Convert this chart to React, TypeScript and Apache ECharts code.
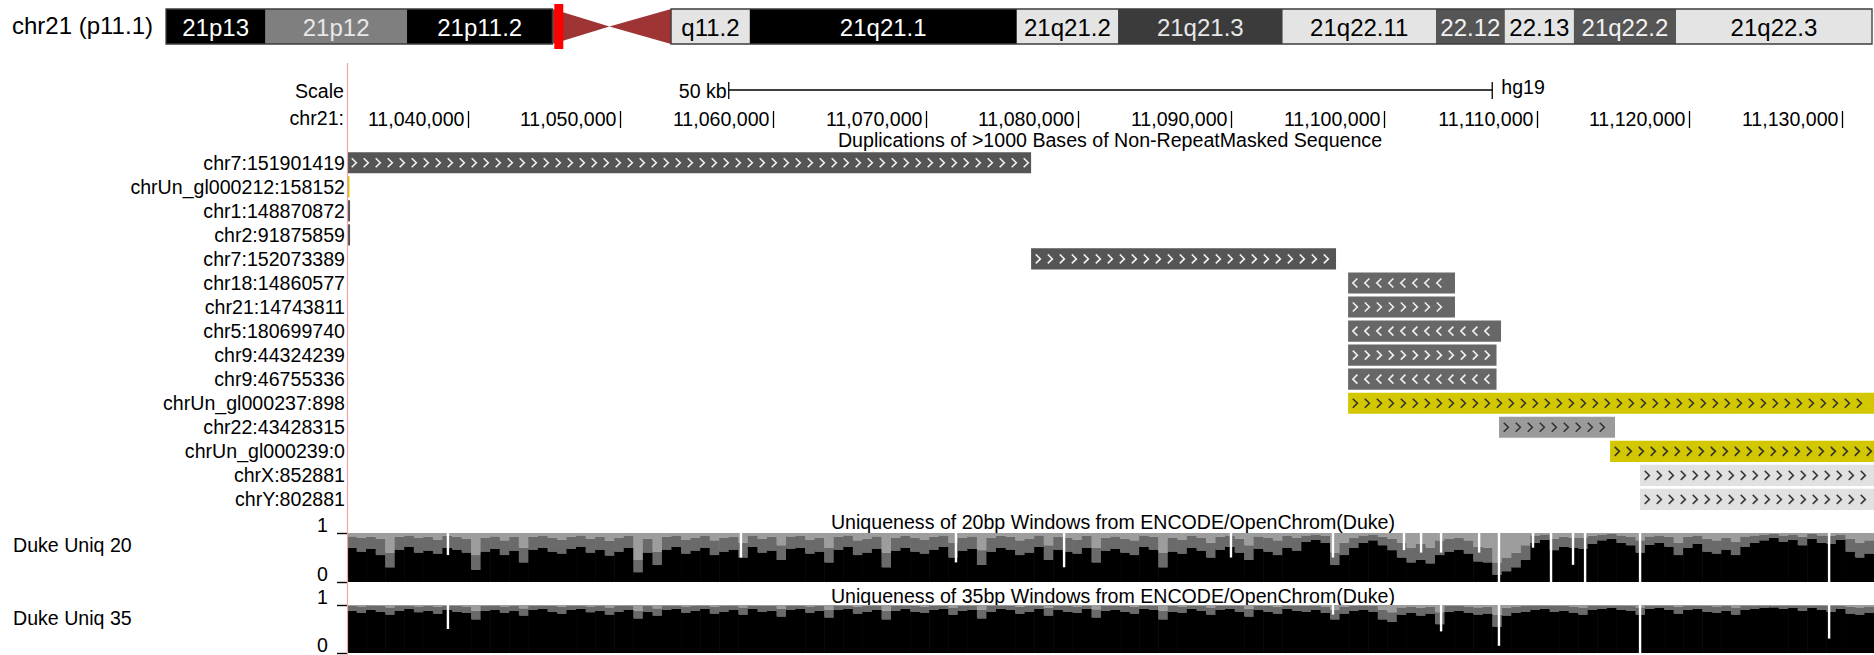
import React, { useEffect, useRef } from "react";
import * as echarts from "echarts";

const FONT = "'Liberation Sans', Arial, Helvetica, sans-serif";

// ---- Chromosome ideogram (positions in Mb) ----
const chromLabel = "chr21 (p11.1)";
const chromLengthMb = 48.13;
const bandIds = ["p13", "p12", "p11.2", "p11.1", "q11.1", "q11.2", "q21.1", "q21.2", "q21.3", "q22.11", "q22.12", "q22.13", "q22.2", "q22.3"];
const bandLabels = ["21p13", "21p12", "21p11.2", "", "", "q11.2", "21q21.1", "21q21.2", "21q21.3", "21q22.11", "22.12", "22.13", "21q22.2", "21q22.3"];
const bandStartsMb = [0, 2.8, 6.8, 10.9, 12.51, 14.25, 16.47, 24.0, 26.86, 31.5, 35.83, 37.77, 39.72, 42.6];
const bandEndsMb = [2.8, 6.8, 10.9, 12.51, 14.25, 16.47, 24.0, 26.86, 31.5, 35.83, 37.77, 39.72, 42.6, 48.13];
const bandStains = ["gvar", "stalk", "gvar", "acen", "acen", "gneg", "gpos100", "gneg", "gpos75", "gneg", "gpos50", "gneg", "gpos50", "gneg"];

// ---- Browser window ----
const viewStart = 11032100;
const viewEnd = 11132100;
const rulerTicks = [11040000, 11050000, 11060000, 11070000, 11080000, 11090000, 11100000, 11110000, 11120000, 11130000];
const scaleBarRange = [11057100, 11107100];
const scaleBarLabel = "50 kb";
const assemblyLabel = "hg19";

// ---- Segmental duplications ----
const dupTitle = "Duplications of >1000 Bases of Non-RepeatMasked Sequence";
const dupNames = [
  "chr7:151901419", "chrUn_gl000212:158152", "chr1:148870872", "chr2:91875859", "chr7:152073389",
  "chr18:14860577", "chr21:14743811", "chr5:180699740", "chr9:44324239", "chr9:46755336",
  "chrUn_gl000237:898", "chr22:43428315", "chrUn_gl000239:0", "chrX:852881", "chrY:802881",
];
const dupStarts = [11020000, 11020000, 11020000, 11020000, 11076900, 11097660, 11097660, 11097660, 11097660, 11097660, 11097660, 11107545, 11114815, 11116780, 11116780];
const dupEnds = [11076900, 11032260, 11032300, 11032300, 11096870, 11104660, 11104660, 11107675, 11107380, 11107380, 11160000, 11115140, 11160000, 11160000, 11160000];
const dupStrands = ["+", "+", "+", "+", "+", "-", "+", "-", "+", "-", "+", "+", "+", "+", "+"];
const dupShades = ["dark", "yellow", "dark", "dark", "dark", "mid", "mid", "mid", "mid", "mid", "yellow", "gray", "yellow", "light", "light"];

// ---- Duke uniqueness (625 bp bins across the window) ----
const uniqBinSize = 625;
const uniq20Title = "Uniqueness of 20bp Windows from ENCODE/OpenChrom(Duke)";
const uniq35Title = "Uniqueness of 35bp Windows from ENCODE/OpenChrom(Duke)";
const uniq20Mean = [
  0.70, 0.62, 0.68, 0.55, 0.30, 0.66, 0.72, 0.60, 0.64, 0.58, 0.70, 0.66, 0.60, 0.25, 0.62, 0.68, 0.55, 0.64, 0.40, 0.66,
  0.70, 0.62, 0.58, 0.68, 0.72, 0.60, 0.66, 0.54, 0.62, 0.70, 0.20, 0.60, 0.35, 0.66, 0.72, 0.58, 0.64, 0.70, 0.55, 0.62,
  0.66, 0.50, 0.72, 0.60, 0.64, 0.45, 0.68, 0.70, 0.58, 0.62, 0.40, 0.66, 0.72, 0.55, 0.60, 0.68, 0.30, 0.64, 0.70, 0.62,
  0.58, 0.66, 0.72, 0.50, 0.64, 0.68, 0.35, 0.62, 0.70, 0.66, 0.55, 0.60, 0.72, 0.45, 0.66, 0.62, 0.58, 0.70, 0.40, 0.64,
  0.68, 0.60, 0.55, 0.72, 0.66, 0.30, 0.62, 0.58, 0.70, 0.64, 0.50, 0.66, 0.72, 0.60, 0.45, 0.68, 0.62, 0.55, 0.70, 0.64,
  0.82, 0.86, 0.80, 0.35, 0.55, 0.70, 0.80, 0.85, 0.75, 0.65, 0.50, 0.40, 0.45, 0.38, 0.55, 0.62, 0.66, 0.58, 0.42, 0.40,
  0.15, 0.22, 0.30, 0.45, 0.80, 0.86, 0.65, 0.72, 0.70, 0.68, 0.78, 0.85, 0.88, 0.80, 0.75, 0.60, 0.76, 0.80, 0.72, 0.55,
  0.70, 0.78, 0.62, 0.58, 0.66, 0.55, 0.72, 0.80, 0.85, 0.90, 0.82, 0.86, 0.75, 0.88, 0.80, 0.78, 0.86, 0.62, 0.50, 0.58,
];
const uniq20Upper = [
  0.93, 0.90, 0.92, 0.88, 0.60, 0.92, 0.95, 0.90, 0.92, 0.86, 0.94, 0.92, 0.88, 0.55, 0.90, 0.93, 0.85, 0.92, 0.70, 0.92,
  0.94, 0.90, 0.86, 0.92, 0.95, 0.88, 0.92, 0.84, 0.90, 0.94, 0.45, 0.88, 0.62, 0.92, 0.95, 0.86, 0.90, 0.94, 0.85, 0.90,
  0.92, 0.80, 0.95, 0.88, 0.92, 0.75, 0.93, 0.94, 0.86, 0.90, 0.70, 0.92, 0.95, 0.85, 0.88, 0.93, 0.60, 0.90, 0.94, 0.90,
  0.86, 0.92, 0.95, 0.80, 0.90, 0.93, 0.65, 0.90, 0.94, 0.92, 0.85, 0.88, 0.95, 0.75, 0.92, 0.90, 0.86, 0.94, 0.70, 0.90,
  0.93, 0.88, 0.85, 0.95, 0.92, 0.60, 0.90, 0.86, 0.94, 0.90, 0.80, 0.92, 0.95, 0.88, 0.75, 0.93, 0.90, 0.85, 0.94, 0.90,
  0.95, 0.97, 0.94, 0.60, 0.80, 0.90, 0.95, 0.97, 0.92, 0.88, 0.80, 0.70, 0.78, 0.70, 0.85, 0.88, 0.90, 0.85, 0.72, 0.70,
  0.40, 0.50, 0.60, 0.75, 0.95, 0.97, 0.88, 0.92, 0.90, 0.90, 0.94, 0.97, 0.98, 0.95, 0.92, 0.85, 0.93, 0.95, 0.92, 0.80,
  0.92, 0.95, 0.88, 0.85, 0.90, 0.82, 0.93, 0.95, 0.97, 0.98, 0.95, 0.97, 0.92, 0.98, 0.95, 0.94, 0.97, 0.88, 0.80, 0.85,
];
// [position, lowest value] of narrow zero-score gaps
const uniq20Dips = [
  [11038710, 0.55], [11057900, 0.5], [11071980, 0.4], [11079060, 0.3], [11089990, 0.5],
  [11096670, 0.5], [11101320, 0.65], [11102440, 0.6], [11103750, 0.6], [11106240, 0.6],
  [11107540, 0.0], [11109770, 0.7], [11110950, 0.0], [11112390, 0.35], [11113180, 0.0],
  [11116780, 0.0], [11129160, 0.0],
];
const uniq35Mean = [
  0.88, 0.84, 0.90, 0.86, 0.80, 0.88, 0.92, 0.85, 0.88, 0.82, 0.90, 0.86, 0.84, 0.70, 0.88, 0.90, 0.84, 0.88, 0.78, 0.90,
  0.92, 0.86, 0.82, 0.90, 0.92, 0.85, 0.88, 0.80, 0.86, 0.90, 0.72, 0.86, 0.78, 0.90, 0.92, 0.84, 0.88, 0.92, 0.82, 0.86,
  0.90, 0.80, 0.92, 0.86, 0.88, 0.76, 0.90, 0.92, 0.84, 0.88, 0.74, 0.90, 0.92, 0.82, 0.86, 0.90, 0.70, 0.88, 0.92, 0.86,
  0.84, 0.90, 0.92, 0.80, 0.88, 0.90, 0.72, 0.86, 0.92, 0.90, 0.82, 0.86, 0.92, 0.78, 0.90, 0.86, 0.84, 0.92, 0.74, 0.88,
  0.90, 0.86, 0.82, 0.92, 0.90, 0.70, 0.86, 0.84, 0.92, 0.88, 0.80, 0.90, 0.92, 0.86, 0.76, 0.90, 0.86, 0.82, 0.92, 0.88,
  0.86, 0.90, 0.84, 0.70, 0.82, 0.88, 0.90, 0.86, 0.70, 0.65, 0.80, 0.84, 0.78, 0.82, 0.60, 0.86, 0.88, 0.84, 0.80, 0.82,
  0.55, 0.78, 0.84, 0.86, 0.90, 0.92, 0.86, 0.88, 0.84, 0.80, 0.90, 0.92, 0.94, 0.90, 0.88, 0.80, 0.92, 0.94, 0.90, 0.82,
  0.90, 0.92, 0.86, 0.84, 0.88, 0.80, 0.90, 0.92, 0.94, 0.95, 0.92, 0.94, 0.88, 0.94, 0.90, 0.86, 0.92, 0.82, 0.80, 0.84,
];
const uniq35Upper = [
  0.98, 0.97, 0.99, 0.98, 0.95, 0.98, 0.99, 0.97, 0.98, 0.96, 0.99, 0.98, 0.97, 0.88, 0.98, 0.99, 0.97, 0.98, 0.93, 0.99,
  0.99, 0.98, 0.96, 0.99, 0.99, 0.97, 0.98, 0.95, 0.98, 0.99, 0.88, 0.98, 0.93, 0.99, 0.99, 0.97, 0.98, 0.99, 0.96, 0.98,
  0.99, 0.95, 0.99, 0.98, 0.98, 0.92, 0.99, 0.99, 0.97, 0.98, 0.90, 0.99, 0.99, 0.96, 0.98, 0.99, 0.88, 0.98, 0.99, 0.98,
  0.97, 0.99, 0.99, 0.95, 0.98, 0.99, 0.90, 0.98, 0.99, 0.99, 0.96, 0.98, 0.99, 0.94, 0.99, 0.98, 0.97, 0.99, 0.91, 0.98,
  0.99, 0.98, 0.96, 0.99, 0.99, 0.88, 0.98, 0.97, 0.99, 0.98, 0.95, 0.99, 0.99, 0.98, 0.92, 0.99, 0.98, 0.96, 0.99, 0.98,
  0.98, 0.99, 0.97, 0.90, 0.96, 0.98, 0.99, 0.98, 0.90, 0.85, 0.95, 0.97, 0.94, 0.96, 0.85, 0.98, 0.99, 0.97, 0.95, 0.96,
  0.80, 0.94, 0.97, 0.98, 0.99, 0.99, 0.98, 0.98, 0.97, 0.95, 0.99, 0.99, 0.99, 0.99, 0.98, 0.95, 0.99, 0.99, 0.99, 0.96,
  0.99, 0.99, 0.98, 0.97, 0.98, 0.95, 0.99, 0.99, 0.99, 0.99, 0.99, 0.99, 0.98, 0.99, 0.99, 0.98, 0.99, 0.96, 0.95, 0.97,
];
const uniq35Dips = [
  [11038710, 0.5], [11096670, 0.8], [11103750, 0.45], [11107540, 0.15], [11116780, 0.0], [11129160, 0.3],
];

const stainFill: Record<string, string> = {
  gvar: "#000000", stalk: "#7f7f7f", gneg: "#e4e4e4", gpos100: "#000000",
  gpos75: "#3b3b3b", gpos50: "#555555", acen: "#9e3434",
};
const stainText: Record<string, string> = {
  gvar: "#ffffff", stalk: "#e8e8e8", gneg: "#000000", gpos100: "#ffffff",
  gpos75: "#e8e8e8", gpos50: "#f2f2f2", acen: "#ffffff",
};
const shadeFill: Record<string, string> = {
  dark: "#555555", mid: "#676767", gray: "#9b9b9b", light: "#e1e1e1", yellow: "#d2c700",
};
const shadeChevron: Record<string, string> = {
  dark: "#f0f0f0", mid: "#f0f0f0", gray: "#333333", light: "#3a3a3a", yellow: "#333333",
};

const fmt = (n: number) => n.toLocaleString("en-US");

function wiggleItems(mean: number[], upper: number[]) {
  return mean.map((m, i) => [viewStart + i * uniqBinSize, viewStart + (i + 1) * uniqBinSize, m, upper[i]]);
}

function wiggleRender(params: any, api: any) {
  const s = api.value(0);
  const e = api.value(1);
  const top = api.coord([s, 1]);
  const bot = api.coord([e, 0]);
  const x = top[0];
  const w = bot[0] - top[0] + 0.6;
  const yMean = api.coord([s, api.value(2)])[1];
  const yUp = api.coord([s, api.value(3)])[1];
  return {
    type: "group",
    children: [
      { type: "rect", shape: { x, y: top[1], width: w, height: yUp - top[1] }, style: { fill: "#9d9d9d" } },
      { type: "rect", shape: { x, y: yUp, width: w, height: yMean - yUp }, style: { fill: "#6a6a6a" } },
      { type: "rect", shape: { x, y: yMean, width: w, height: bot[1] - yMean }, style: { fill: "#000000" } },
    ],
  };
}

function dipRender(params: any, api: any) {
  const pTop = api.coord([api.value(0), 1]);
  const pLow = api.coord([api.value(0), api.value(1)]);
  return { type: "rect", shape: { x: pTop[0] - 1.2, y: pTop[1], width: 2.4, height: pLow[1] - pTop[1] }, style: { fill: "#ffffff" } };
}

function buildOption(): any {
  const gridLeft = 347;
  const gridWidth = 1527;
  const rowPitch = 24.05;
  const dupTop = 150.7;

  const ideoData = bandStartsMb.map((s, i) => [s, bandEndsMb[i]]);
  const armData = [
    [bandStartsMb[0], bandEndsMb[2]],
    [bandStartsMb[5], bandEndsMb[13]],
  ];

  const dupData = dupNames.map((_, i) => [i, dupStarts[i], dupEnds[i]]);

  const valueAxisBase = (gridIndex: number) => ({
    gridIndex, type: "value", min: viewStart, max: viewEnd, show: false,
  });
  const wigYAxis = (gridIndex: number) => ({
    gridIndex, type: "value", min: 0, max: 1, interval: 1,
    axisLine: { show: false },
    axisTick: { show: true, length: 10, lineStyle: { color: "#000", width: 1.4 } },
    splitLine: { show: false },
    axisLabel: { color: "#000", fontSize: 19.6, fontFamily: FONT, margin: 19, verticalAlign: "bottom", lineHeight: 16 },
  });

  return {
    animation: false,
    backgroundColor: "#ffffff",
    textStyle: { fontFamily: FONT },
    grid: [
      { left: 166, top: 9, width: 1706, height: 35 },
      { left: gridLeft, top: 70, width: gridWidth, height: 60 },
      { left: gridLeft, top: dupTop, width: gridWidth, height: rowPitch * dupNames.length },
      { left: gridLeft, top: 533, width: gridWidth, height: 49 },
      { left: gridLeft, top: 605, width: gridWidth, height: 48 },
    ],
    xAxis: [
      { gridIndex: 0, type: "value", min: 0, max: chromLengthMb, show: false },
      valueAxisBase(1), valueAxisBase(2), valueAxisBase(3), valueAxisBase(4),
    ],
    yAxis: [
      { gridIndex: 0, type: "value", min: 0, max: 1, show: false },
      { gridIndex: 1, type: "value", min: 0, max: 1, show: false },
      {
        gridIndex: 2, type: "category", data: dupNames, inverse: true,
        axisLine: { show: false }, axisTick: { show: false }, splitLine: { show: false },
        axisLabel: { interval: 0, color: "#000", fontSize: 19.6, fontFamily: FONT, margin: 2 },
      },
      wigYAxis(3),
      wigYAxis(4),
    ],
    graphic: [
      { type: "text", left: 12, top: 13, style: { text: chromLabel, fontSize: 24, fontFamily: FONT, fill: "#000" } },
      { type: "line", shape: { x1: 347.5, y1: 63, x2: 347.5, y2: 655 }, style: { stroke: "#f3a6a6", lineWidth: 1.2 }, z: 50 },
      { type: "text", x: 344, y: 91, style: { text: "Scale", align: "right", verticalAlign: "middle", fontSize: 19.6, fontFamily: FONT, fill: "#000" } },
      { type: "text", x: 344, y: 118, style: { text: "chr21:", align: "right", verticalAlign: "middle", fontSize: 19.6, fontFamily: FONT, fill: "#000" } },
      { type: "text", x: 1110, y: 140, style: { text: dupTitle, align: "center", verticalAlign: "middle", fontSize: 19.6, fontFamily: FONT, fill: "#000" } },
      { type: "text", x: 1113, y: 522, style: { text: uniq20Title, align: "center", verticalAlign: "middle", fontSize: 19.6, fontFamily: FONT, fill: "#000" } },
      { type: "text", x: 1113, y: 596, style: { text: uniq35Title, align: "center", verticalAlign: "middle", fontSize: 19.6, fontFamily: FONT, fill: "#000" } },
      { type: "text", x: 13, y: 545, style: { text: "Duke Uniq 20", align: "left", verticalAlign: "middle", fontSize: 19.6, fontFamily: FONT, fill: "#000" } },
      { type: "text", x: 13, y: 618, style: { text: "Duke Uniq 35", align: "left", verticalAlign: "middle", fontSize: 19.6, fontFamily: FONT, fill: "#000" } },
    ],
    series: [
      // cytogenetic bands
      {
        type: "custom", xAxisIndex: 0, yAxisIndex: 0, silent: true, data: ideoData, encode: { x: [0, 1] },
        renderItem: (params: any, api: any) => {
          const i = params.dataIndex;
          const a = api.coord([api.value(0), 1]);
          const b = api.coord([api.value(1), 0]);
          const left = a[0], right = b[0], top = a[1], bottom = b[1];
          const stain = bandStains[i];
          if (stain === "acen") {
            const mid = (top + bottom) / 2;
            const pts = bandIds[i].startsWith("p")
              ? [[left, top], [right, mid], [left, bottom]]
              : [[left, mid], [right, top], [right, bottom]];
            return { type: "polygon", shape: { points: pts }, style: { fill: stainFill.acen } };
          }
          return {
            type: "group",
            children: [
              { type: "rect", shape: { x: left, y: top, width: right - left + 0.5, height: bottom - top }, style: { fill: stainFill[stain] } },
              {
                type: "text",
                style: {
                  text: bandLabels[i], x: (left + right) / 2, y: (top + bottom) / 2 + 1,
                  align: "center", verticalAlign: "middle", fontSize: 24, fontFamily: FONT, fill: stainText[stain],
                },
              },
            ],
          };
        },
      },
      // arm outlines
      {
        type: "custom", xAxisIndex: 0, yAxisIndex: 0, silent: true, data: armData, encode: { x: [0, 1] }, z: 3,
        renderItem: (params: any, api: any) => {
          const a = api.coord([api.value(0), 1]);
          const b = api.coord([api.value(1), 0]);
          return {
            type: "rect", shape: { x: a[0], y: a[1], width: b[0] - a[0], height: b[1] - a[1] },
            style: { fill: "none", stroke: "#3c3c3c", lineWidth: 1.3 },
          };
        },
      },
      // current window marker
      {
        type: "custom", xAxisIndex: 0, yAxisIndex: 0, silent: true, z: 4,
        data: [[viewStart / 1e6, viewEnd / 1e6]], encode: { x: [0, 1] },
        renderItem: (params: any, api: any) => {
          const a = api.coord([api.value(0), 1]);
          const b = api.coord([api.value(1), 0]);
          const cx = (a[0] + b[0]) / 2;
          const w = Math.max(9, b[0] - a[0]);
          return { type: "rect", shape: { x: cx - w / 2, y: a[1] - 5, width: w, height: b[1] - a[1] + 10 }, style: { fill: "#ff0000" } };
        },
      },
      // base position ruler
      {
        type: "custom", xAxisIndex: 1, yAxisIndex: 1, silent: true,
        data: rulerTicks.map((t) => [t]), encode: { x: 0 },
        renderItem: (params: any, api: any) => {
          const x = Math.round(api.coord([api.value(0), 0])[0]) + 0.5;
          return {
            type: "group",
            children: [
              { type: "line", shape: { x1: x, y1: 111, x2: x, y2: 128 }, style: { stroke: "#000", lineWidth: 1.3 } },
              {
                type: "text",
                style: { text: fmt(api.value(0)), x: x - 4, y: 119, align: "right", verticalAlign: "middle", fontSize: 19.6, fontFamily: FONT, fill: "#000" },
              },
            ],
          };
        },
      },
      // scale bar
      {
        type: "custom", xAxisIndex: 1, yAxisIndex: 1, silent: true,
        data: [scaleBarRange], encode: { x: [0, 1] },
        renderItem: (params: any, api: any) => {
          const x0 = api.coord([api.value(0), 0])[0];
          const x1 = api.coord([api.value(1), 0])[0];
          const y = 90;
          const st = { stroke: "#000", lineWidth: 1.3 };
          return {
            type: "group",
            children: [
              { type: "line", shape: { x1: x0, y1: y, x2: x1, y2: y }, style: st },
              { type: "line", shape: { x1: x0, y1: y - 8, x2: x0, y2: y + 9 }, style: st },
              { type: "line", shape: { x1: x1, y1: y - 8, x2: x1, y2: y + 9 }, style: st },
              { type: "text", style: { text: scaleBarLabel, x: x0 - 2, y: y + 1, align: "right", verticalAlign: "middle", fontSize: 19.6, fontFamily: FONT, fill: "#000" } },
              { type: "text", style: { text: assemblyLabel, x: x1 + 9, y: y - 3, align: "left", verticalAlign: "middle", fontSize: 19.6, fontFamily: FONT, fill: "#000" } },
            ],
          };
        },
      },
      // duplication blocks with strand chevrons
      {
        type: "custom", xAxisIndex: 2, yAxisIndex: 2, silent: true,
        data: dupData, encode: { x: [1, 2], y: 0 },
        renderItem: (params: any, api: any) => {
          const i = params.dataIndex;
          const row = api.value(0);
          const p0 = api.coord([api.value(1), row]);
          const p1 = api.coord([api.value(2), row]);
          const h = api.size([0, 1])[1] * 0.88;
          const cs = params.coordSys;
          const rect = echarts.graphic.clipRectByRect(
            { x: p0[0], y: p0[1] - h / 2, width: p1[0] - p0[0], height: h },
            { x: cs.x, y: cs.y, width: cs.width, height: cs.height }
          );
          if (!rect) return null;
          const shade = dupShades[i];
          const children: any[] = [{ type: "rect", shape: rect, style: { fill: shadeFill[shade] } }];
          const cy = p0[1];
          const dir = dupStrands[i] === "-" ? -1 : 1;
          for (let cx = rect.x + 7; cx < rect.x + rect.width - 4; cx += 12) {
            children.push({
              type: "polyline",
              shape: { points: [[cx - 2.3 * dir, cy - 4.5], [cx + 2.3 * dir, cy], [cx - 2.3 * dir, cy + 4.5]] },
              style: { stroke: shadeChevron[shade], lineWidth: 1.6, fill: "none" },
            });
          }
          return { type: "group", children };
        },
      },
      // Duke uniqueness 20bp
      { type: "custom", xAxisIndex: 3, yAxisIndex: 3, silent: true, data: wiggleItems(uniq20Mean, uniq20Upper), encode: { x: [0, 1], y: [2, 3] }, renderItem: wiggleRender },
      { type: "custom", xAxisIndex: 3, yAxisIndex: 3, silent: true, data: uniq20Dips, encode: { x: 0, y: 1 }, renderItem: dipRender, z: 3 },
      // Duke uniqueness 35bp
      { type: "custom", xAxisIndex: 4, yAxisIndex: 4, silent: true, data: wiggleItems(uniq35Mean, uniq35Upper), encode: { x: [0, 1], y: [2, 3] }, renderItem: wiggleRender },
      { type: "custom", xAxisIndex: 4, yAxisIndex: 4, silent: true, data: uniq35Dips, encode: { x: 0, y: 1 }, renderItem: dipRender, z: 3 },
    ],
  };
}

export default function App() {
  const ref = useRef<HTMLDivElement>(null);
  useEffect(() => {
    if (!ref.current) return;
    const chart = echarts.init(ref.current, null, { renderer: "svg" });
    chart.setOption(buildOption());
    return () => chart.dispose();
  }, []);
  return (
    <div
      ref={ref}
      style={{ position: "fixed", left: 0, top: 0, width: 1874, height: 655, background: "#ffffff" }}
    />
  );
}
